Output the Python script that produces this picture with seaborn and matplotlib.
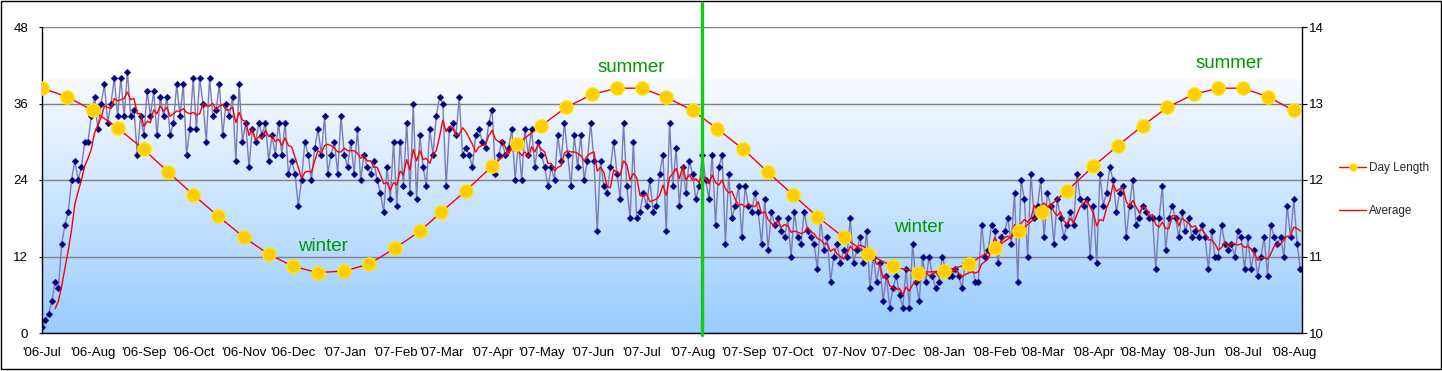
import matplotlib
matplotlib.use("Agg")
import matplotlib.pyplot as plt
import matplotlib.dates as mdates
from matplotlib.lines import Line2D
from matplotlib.patches import Rectangle
import numpy as np
import pandas as pd
import seaborn as sns

# readings, one value every second day, one list per month
jul06 = [1, 2, 3, 5, 8, 7, 14, 17, 19, 24, 27, 24, 26, 30, 30, 34]
aug06 = [37, 32, 36, 39, 33, 36, 40, 34, 40, 34, 41, 34, 35, 28, 34]
sep06 = [31, 38, 34, 38, 31, 37, 34, 37, 31, 33, 39, 34, 39, 28, 32]
oct06 = [40, 32, 40, 36, 30, 40, 34, 35, 39, 31, 36, 34, 37, 27, 39, 30]
nov06 = [33, 26, 32, 30, 33, 31, 33, 27, 31, 28, 33, 28, 33, 25, 27]
dec06 = [25, 20, 24, 30, 28, 24, 29, 32, 28, 34, 25, 28, 30, 25, 34]
jan07 = [28, 26, 30, 25, 32, 24, 28, 26, 25, 27, 24, 22, 19, 26, 21, 30]
feb07 = [20, 30, 23, 33, 22, 36, 21, 31, 26, 23, 32, 28, 34, 37]
mar07 = [36, 23, 32, 33, 31, 37, 28, 29, 28, 26, 31, 32, 30, 29, 33]
apr07 = [35, 25, 28, 30, 28, 29, 32, 24, 30, 24, 32, 28, 32, 26, 30]
may07 = [28, 26, 23, 26, 24, 31, 27, 33, 28, 23, 31, 26, 31, 24, 27, 33]
jun07 = [27, 16, 27, 23, 22, 26, 30, 25, 21, 33, 23, 18, 30, 18, 19]
jul07 = [22, 20, 24, 19, 20, 25, 28, 16, 33, 23, 29, 20, 26, 22, 27]
aug07 = [25, 21, 23, 28, 24, 21, 28, 17, 26, 28, 14, 25, 18, 20, 23, 15]
sep07 = [23, 20, 19, 22, 19, 14, 21, 13, 19, 17, 18, 16, 15, 18, 12]
oct07 = [19, 15, 14, 19, 16, 15, 14, 10, 18, 13, 15, 8, 12, 14, 11]
nov07 = [13, 12, 18, 11, 13, 15, 11, 16, 7, 12, 8, 11, 5, 9, 4]
dec07 = [7, 9, 6, 4, 10, 4, 14, 8, 5, 12, 8, 12, 9, 7, 8, 12]
jan08 = [10, 9, 9, 10, 9, 7, 11, 10, 11, 8, 8, 17, 12, 13, 17]
feb08 = [16, 11, 15, 16, 18, 14, 22, 8, 24, 21, 12, 25, 18, 20, 24]
mar08 = [15, 22, 20, 14, 21, 18, 15, 17, 19, 17, 25, 21, 20, 21, 12]
apr08 = [20, 11, 25, 20, 22, 26, 24, 19, 22, 23, 15, 20, 24, 17, 18]
may08 = [20, 19, 18, 18, 10, 18, 23, 13, 18, 20, 18, 15, 19, 16, 18, 15]
jun08 = [16, 15, 17, 15, 10, 16, 12, 12, 17, 14, 13, 14, 12, 16, 15]
jul08 = [10, 15, 10, 13, 9, 12, 15, 9, 17, 15, 14, 15, 12, 20, 15]
aug08 = [21, 14, 10]

# day length (hours) on the 1st and 16th of each month
day_len = [13.20, 13.09, 12.91, 12.68, 12.40, 12.10, 11.81, 11.53, 11.25, 11.03, 10.87, 10.79,
           10.81, 10.90, 11.11, 11.33, 11.58, 11.86, 12.18, 12.47, 12.71, 12.95, 13.12, 13.20,
           13.20, 13.08, 12.91, 12.67, 12.40, 12.10, 11.81, 11.52, 11.25, 11.03, 10.87, 10.79,
           10.81, 10.90, 11.11, 11.33, 11.58, 11.86, 12.18, 12.45, 12.71, 12.95, 13.12, 13.20,
           13.20, 13.09, 12.91]

values = (jul06 + aug06 + sep06 + oct06 + nov06 + dec06 + jan07 + feb07 + mar07 + apr07
          + may07 + jun07 + jul07 + aug07 + sep07 + oct07 + nov07 + dec07 + jan08 + feb08
          + mar08 + apr08 + may08 + jun08 + jul08 + aug08)

df = pd.DataFrame({
    "date": pd.date_range("2006-07-01", periods=len(values), freq="2D"),
    "value": values,
})
# moving average, like the Excel trendline
df["avg"] = df["value"].rolling(5).mean()

months = pd.date_range("2006-07-01", "2008-08-01", freq="MS")
dl_dates = sorted(list(months) + [m + pd.Timedelta(days=15) for m in months[:-1]])
dl = pd.DataFrame({"date": dl_dates, "hours": day_len})

sns.set_style("white")
plt.rcParams["font.family"] = ["Liberation Sans", "DejaVu Sans"]

fig = plt.figure(figsize=(14.42, 3.71), dpi=100)
pos = [42 / 1442, 1 - 333 / 371, 1260 / 1442, 306 / 371]

# gradient background
bg = fig.add_axes(pos)
bg.set_zorder(0)
t = np.linspace(0, 1, 300)
top = np.array([248, 251, 255]) / 255
bot = np.array([153, 204, 255]) / 255
frac = np.clip((t - 0.17) / 0.83, 0, 1)[:, None]
rgb = top + (bot - top) * frac
rgb[t < 0.17] = 1.0
bg.imshow(rgb[:, None, :], aspect="auto", extent=[0, 1, 0, 1])
bg.set_axis_off()

ax = fig.add_axes(pos)
ax.set_zorder(1)
ax.patch.set_visible(False)
ax2 = ax.twinx()
ax2.set_zorder(2)
ax2.patch.set_visible(False)

sns.lineplot(data=df, x="date", y="value", ax=ax, color="#7C7CB4", linewidth=1,
             marker="D", markersize=3.4, markerfacecolor="#000080",
             markeredgecolor="#000080", markeredgewidth=0.3, errorbar=None)
sns.lineplot(data=df, x="date", y="avg", ax=ax, color="red", linewidth=1, errorbar=None)

sns.lineplot(data=dl, x="date", y="hours", ax=ax2, color="red", linewidth=1,
             marker="o", markersize=9.5, markerfacecolor="#FFCC00",
             markeredgecolor="#FFE600", markeredgewidth=1, errorbar=None)

ax.set_xlim(pd.Timestamp("2006-07-01"), pd.Timestamp("2008-08-06"))
ax.set_ylim(0, 48)
ax.set_yticks([0, 12, 24, 36, 48])
ax2.set_ylim(10, 14)
ax2.set_yticks([10, 11, 12, 13, 14])
ax.xaxis.set_major_locator(mdates.MonthLocator())
ax.xaxis.set_major_formatter(mdates.DateFormatter("'%y-%b"))
for a in (ax, ax2):
    a.set_xlabel("")
    a.set_ylabel("")

ax.yaxis.grid(True, color="#808080", linewidth=1)
ax.xaxis.grid(False)
ax.set_axisbelow(True)

ax.tick_params(axis="x", direction="in", length=3, pad=10, labelsize=9.5, colors="black")
ax.tick_params(axis="y", direction="out", length=2.5, pad=7.5, labelsize=9.5, colors="black", left=True)
ax2.tick_params(axis="y", direction="out", length=3.6, pad=1.5, labelsize=9.5, colors="black", right=True)

for s in ("top", "right"):
    ax.spines[s].set_visible(False)
for s in ("top", "left", "bottom"):
    ax2.spines[s].set_visible(False)
for s in ("left", "bottom"):
    ax.spines[s].set_color("black")
    ax.spines[s].set_linewidth(1)
ax2.spines["right"].set_color("black")
ax2.spines["right"].set_linewidth(1)

# green marker line
ax2.axvline(pd.Timestamp("2007-08-07"), ymin=-0.005, ymax=330 / 306, color="#11CC11",
            linewidth=2.4, clip_on=False, zorder=6)

for label, d, v in [("summer", "2007-06-25", 41.7), ("winter", "2006-12-19", 13.6),
                    ("winter", "2007-12-17", 16.5), ("summer", "2008-06-23", 42.2)]:
    ax.text(pd.Timestamp(d), v, label, color="#009900", fontsize=13.5,
            ha="center", va="center")

handles = [
    Line2D([], [], color="red", lw=1, marker="o", markersize=5,
           markerfacecolor="#FFCC00", markeredgecolor="#FFE600"),
    Line2D([], [], color="red", lw=1),
]
fig.legend(handles, ["Day Length", "Average"], loc="upper left",
           bbox_to_anchor=(1339 / 1442, 1 - 162 / 371), frameon=False, fontsize=8.5,
           handlelength=2.3, handletextpad=0.25, labelspacing=2.6,
           borderpad=0, borderaxespad=0)

fig.add_artist(Rectangle((0.0007, 0.005), 0.9986, 0.992, transform=fig.transFigure,
                         fill=False, edgecolor="black", linewidth=1))

fig.savefig("out.png", dpi=100)
